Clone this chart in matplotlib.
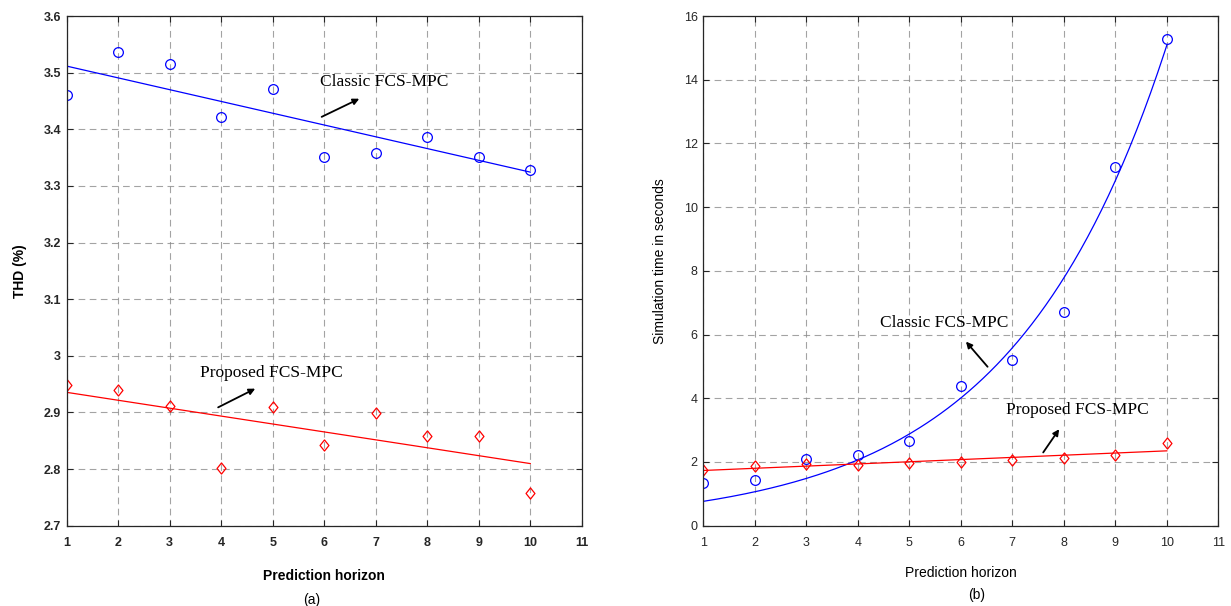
import numpy as np
import matplotlib
matplotlib.use("Agg")
import matplotlib.pyplot as plt
from matplotlib.path import Path

plt.rcParams['font.family'] = ['Liberation Sans', 'DejaVu Sans']

# prediction horizon N = 1..10
horizon = np.arange(1, 11)

# THD (%) for each horizon
thd_classic = [3.460, 3.536, 3.515, 3.422, 3.472, 3.351, 3.358, 3.386, 3.351, 3.329]
thd_proposed = [2.948, 2.939, 2.911, 2.802, 2.909, 2.842, 2.899, 2.859, 2.859, 2.758]

# simulation time (s) for each horizon
time_classic = [1.35, 1.42, 2.10, 2.23, 2.67, 4.39, 5.20, 6.70, 11.25, 15.28]
time_proposed = [1.75, 1.87, 1.94, 1.92, 1.97, 1.99, 2.05, 2.13, 2.21, 2.59]

xticks = list(range(1, 12))
thd_yticks = [2.7, 2.8, 2.9, 3.0, 3.1, 3.2, 3.3, 3.4, 3.5, 3.6]
thd_yticklabels = ['2.7', '2.8', '2.9', '3', '3.1', '3.2', '3.3', '3.4', '3.5', '3.6']
time_yticks = list(range(0, 17, 2))

# MATLAB-like diamond, a bit taller than wide
diamond = Path([(0, 1), (0.8, 0), (0, -1), (-0.8, 0), (0, 1)],
               [Path.MOVETO, Path.LINETO, Path.LINETO, Path.LINETO, Path.CLOSEPOLY])


def exp_fit(x, y):
    # least squares fit of y = a*exp(b*x); a is solved in closed form for each b
    x = np.asarray(x, float)
    y = np.asarray(y, float)
    best = None
    for b in np.linspace(0.01, 1.0, 20000):
        e = np.exp(b * x)
        a = (y @ e) / (e @ e)
        r = np.sum((y - a * e) ** 2)
        if best is None or r < best[0]:
            best = (r, a, b)
    return best[1], best[2]


def style_axes(ax, weight):
    ax.set_xlim(1, 11)
    ax.set_xticks(xticks)
    ax.grid(True, color='#8c8c8c', linestyle=(0, (6, 4)), linewidth=0.8, alpha=0.8)
    ax.tick_params(direction='in', top=True, right=True, length=4, width=0.8,
                   labelsize=9, color='#262626', labelcolor='#262626')
    ax.tick_params(axis='x', pad=8)
    ax.tick_params(axis='y', pad=4)
    for lab in ax.get_xticklabels() + ax.get_yticklabels():
        lab.set_fontweight(weight)
    for s in ax.spines.values():
        s.set_color('#262626')
        s.set_linewidth(0.9)


def arrow(ax, start, end):
    ax.annotate('', xy=end, xytext=start,
                arrowprops=dict(arrowstyle='-|>', color='black', lw=1.3,
                                mutation_scale=9, shrinkA=0, shrinkB=0))


fig = plt.figure(figsize=(12.31, 6.06), dpi=100)
ax1 = fig.add_axes([0.0542, 0.1325, 0.4184, 0.841])
ax2 = fig.add_axes([0.5713, 0.1325, 0.4184, 0.841])

xs = np.linspace(1, 10, 200)

# (a) THD
p = np.polyfit(horizon, thd_classic, 1)
ax1.plot(xs, np.polyval(p, xs), color='blue', lw=0.9)
p = np.polyfit(horizon, thd_proposed, 1)
ax1.plot(xs, np.polyval(p, xs), color='red', lw=0.9)
ax1.plot(horizon, thd_classic, 'o', mfc='none', mec='blue', ms=7, mew=0.9)
ax1.plot(horizon, thd_proposed, marker=diamond, ls='none', mfc='none', mec='red', ms=8, mew=0.9)
ax1.set_ylim(2.7, 3.6)
ax1.set_yticks(thd_yticks)
ax1.set_yticklabels(thd_yticklabels)
style_axes(ax1, 'bold')
ax1.set_ylabel('THD (%)', fontsize=10, fontweight='bold')
ax1.yaxis.set_label_coords(-0.077, 0.5)
ax1.xaxis.set_label_coords(0.476, -0.085)
ax1.set_xlabel('Prediction horizon', fontsize=10, fontweight='bold')
ax1.text(0.476, -0.146, '(a)', transform=ax1.transAxes, ha='center', va='center', fontsize=10)

ax1.text(5.92, 3.483, 'Classic FCS-MPC', family='Liberation Serif', fontsize=12.5, va='center')
arrow(ax1, (5.95, 3.422), (6.68, 3.454))
ax1.text(3.59, 2.969, 'Proposed FCS-MPC', family='Liberation Serif', fontsize=12.5, va='center')
arrow(ax1, (3.94, 2.909), (4.66, 2.942))

# (b) simulation time
a, b = exp_fit(horizon, time_classic)
ax2.plot(xs, a * np.exp(b * xs), color='blue', lw=0.9)
p = np.polyfit(horizon, time_proposed, 1)
ax2.plot(xs, np.polyval(p, xs), color='red', lw=0.9)
ax2.plot(horizon, time_classic, 'o', mfc='none', mec='blue', ms=7, mew=0.9)
ax2.plot(horizon, time_proposed, marker=diamond, ls='none', mfc='none', mec='red', ms=8, mew=0.9)
ax2.set_ylim(0, 16)
ax2.set_yticks(time_yticks)
style_axes(ax2, 'normal')
ax2.set_ylabel('Simulation time in seconds', fontsize=10)
ax2.yaxis.set_label_coords(-0.071, 0.52)
ax2.xaxis.set_label_coords(0.512, -0.08)
ax2.set_xlabel('Prediction horizon', fontsize=10)
ax2.text(0.53, -0.136, '(b)', transform=ax2.transAxes, ha='center', va='center', fontsize=10)

ax2.text(4.44, 6.35, 'Classic FCS-MPC', family='Liberation Serif', fontsize=12.5, va='center')
arrow(ax2, (6.52, 4.99), (6.10, 5.78))
ax2.text(6.88, 3.63, 'Proposed FCS-MPC', family='Liberation Serif', fontsize=12.5, va='center')
arrow(ax2, (7.60, 2.30), (7.91, 3.03))

fig.savefig('out.png', dpi=100)
